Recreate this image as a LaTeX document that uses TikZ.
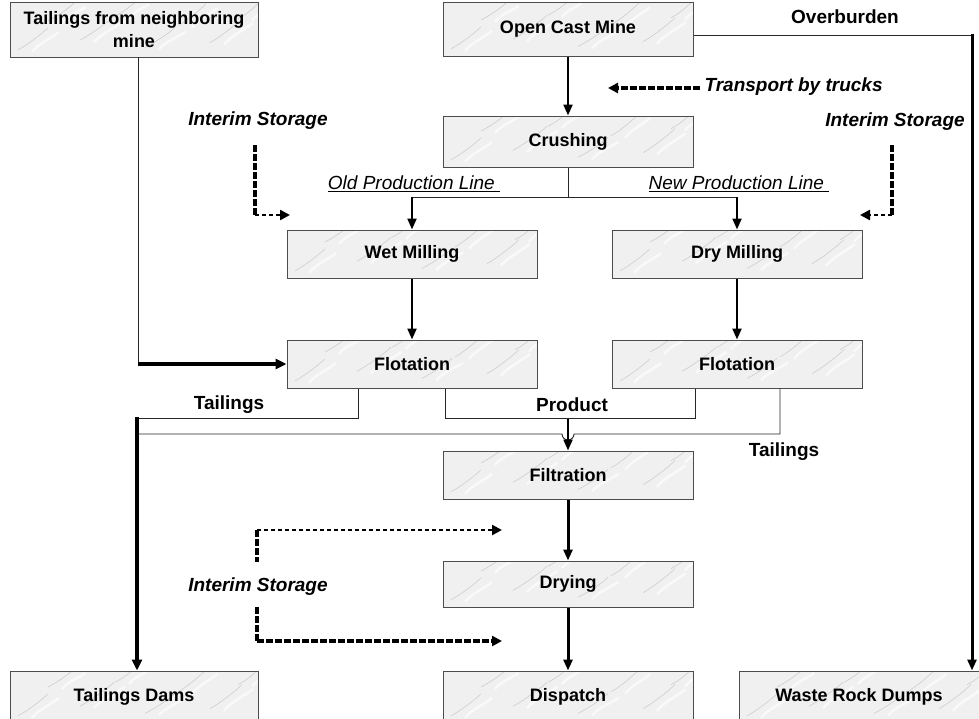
\documentclass[tikz,border=0pt]{standalone}
\usepackage{fontspec}
\setmainfont{Liberation Sans}
\usetikzlibrary{arrows.meta,calc}
\begin{document}
\begin{tikzpicture}[x=1pt,y=-1pt,
  box/.style={draw=gray!60!black, line width=1pt, fill=gray!12,
    minimum width=250pt, minimum height=48pt, inner sep=0pt, align=center,
    font=\fontsize{18}{23}\selectfont\bfseries,
    path picture={
      \foreach \px/\py/\dx/\dy in {8/0.15/30/-22, 38/0.75/26/-18, 70/0.35/34/-24, 105/0.85/22/-16,
                                   135/0.2/30/-20, 168/0.65/28/-22, 200/0.3/32/-24, 228/0.8/20/-15}{
        \draw[gray!50, line width=0.6pt, opacity=0.7]
          ($(path picture bounding box.south west)+(\px,-\py*48)$)
          .. controls +(8,-4) and +(-6,6) .. +(\dx,\dy);
        \draw[white, line width=2.5pt, opacity=0.6]
          ($(path picture bounding box.south west)+(\px+14,-\py*48+2)$)
          .. controls +(6,-8) and +(-4,4) .. +(\dx*0.9,\dy*0.9);
      }}},
  conn/.style={line width=0.9pt, draw=black!85},
  arr/.style={line width=2.2pt, -{Triangle[length=11pt,width=9pt]}},
  tarr/.style={line width=3.4pt, -{Triangle[length=11pt,width=10pt]}},
  dashv/.style={line width=3.4pt, dash pattern=on 7pt off 2pt},
  dotarr/.style={line width=2.4pt, dash pattern=on 4pt off 3pt, -{Triangle[length=10pt,width=10pt]}},
  dasharr/.style={line width=3.4pt, dash pattern=on 7pt off 2pt, -{Triangle[length=10pt,width=10pt]}},
  lbl/.style={font=\fontsize{19}{23}\selectfont\bfseries},
  ilbl/.style={font=\fontsize{19}{23}\selectfont\bfseries\itshape},
  ulbl/.style={font=\fontsize{19}{23}\selectfont\itshape}
]
\useasboundingbox (0,0) rectangle (979,718);

% boxes
\node[box, minimum width=248pt, minimum height=55pt] (tnm) at (134,29.5) {Tailings from neighboring\\mine};
\node[box, minimum height=54pt] (ocm) at (568,29) {Open Cast Mine};
\node[box, minimum height=51pt] (cru) at (568,141.5) {Crushing};
\node[box] (wet) at (412,254) {Wet Milling};
\node[box] (drm) at (737,254) {Dry Milling};
\node[box] (flL) at (412,364) {Flotation};
\node[box] (flR) at (737,364) {Flotation};
\node[box] (fil) at (568,475) {Filtration};
\node[box, minimum height=46pt] (dry) at (568,584) {Drying};
\node[box, minimum width=248pt, minimum height=52pt] (tdam) at (134,697) {Tailings Dams};
\node[box, minimum height=52pt] (disp) at (568,697) {Dispatch};
\node[box, minimum width=240pt, minimum height=52pt] (wrd) at (859,697) {Waste Rock Dumps};

% labels
\node[lbl] (lob) at (845,17) {Overburden};
\node[ilbl, anchor=west] (ltr) at (701,87) {Transport by trucks};
\node[ilbl] (lis1) at (258,121) {Interim Storage};
\node[ilbl] (lis2) at (895,122) {Interim Storage};
\node[ilbl] (lis3) at (258,587) {Interim Storage};
\node[ulbl] (lold) at (414,184) {\underline{Old Production Line\ }};
\node[ulbl] (lnew) at (739,184) {\underline{New Production Line\ }};
\node[lbl] (lt1) at (229,405) {Tailings};
\node[lbl] (lpr) at (572,405) {Product};
\node[lbl] (lt2) at (784,452) {Tailings};

% main chain
\draw[arr] (ocm.south) -- (cru.north);
\coordinate (sp) at (568,197);
\draw[conn] (cru.south) -- (sp);
\draw[conn] (wet.north |- sp) -- (drm.north |- sp);
\draw[arr] (wet.north |- sp) -- (wet.north);
\draw[arr] (drm.north |- sp) -- (drm.north);
\draw[arr] (wet.south) -- (flL.north);
\draw[arr] (drm.south) -- (flR.north);

% tailings from neighbouring mine
\coordinate (tn) at (138,57);
\coordinate (tnj) at (138,364);
\draw[conn] (tn) -- (tnj);
\draw[tarr] (tnj) -- (flL.west |- tnj);

% flotation outputs
\coordinate (tj) at (137,418.5);
\coordinate (pj) at (568,418.5);
\coordinate (hopR) at (574,434);
\draw[conn] ($(flL.south)+(-54,0)$) |- (tj);
\draw[conn] ($(flL.south)+(33,0)$) |- (pj) -| ($(flR.south)+(-42,0)$);
\draw[conn] ($(flR.south)+(43,0)$) |- (hopR) arc[start angle=0, end angle=-180, radius=6pt] -- (tj |- hopR);
\draw[arr] (pj) -- (fil.north);
\draw[tarr] ($(tj)+(0,-1.7)$) -- (tj |- tdam.north);

\draw[arr, line width=3pt] (fil.south) -- (dry.north);
\draw[arr, line width=3pt] (dry.south) -- (disp.north);

% overburden
\coordinate (ob) at (972,35);
\draw[conn] (ocm.east |- ob) -- (ob);
\draw[arr, line width=3pt] ($(ob)+(0,-1)$) -- (ob |- wrd.north);

% transport by trucks
\coordinate (trA) at (700,88);
\coordinate (trB) at (608,88);
\draw[dasharr] (trA) -- (trB);

% interim storage top-left
\coordinate (a1) at (255,145);
\coordinate (a2) at (255,215);
\coordinate (a3) at (290,215);
\draw[dashv] (a1) -- (a2);
\draw[dotarr] (a2) -- (a3);

% interim storage top-right
\coordinate (b1) at (892,145);
\coordinate (b2) at (892,215);
\coordinate (b3) at (860,215);
\draw[dashv] (b1) -- (b2);
\draw[dotarr] (b2) -- (b3);

% interim storage bottom-left
\coordinate (c1) at (257,530);
\coordinate (c2) at (257,562);
\coordinate (c3) at (502,530);
\coordinate (c4) at (257,607);
\coordinate (c5) at (257,641);
\coordinate (c6) at (502,641);
\draw[dashv] (c1) -- (c2);
\draw[dotarr] (c1) -- (c3);
\draw[dashv] (c4) -- (c5);
\draw[dasharr] (c5) -- (c6);
\end{tikzpicture}
\end{document}
